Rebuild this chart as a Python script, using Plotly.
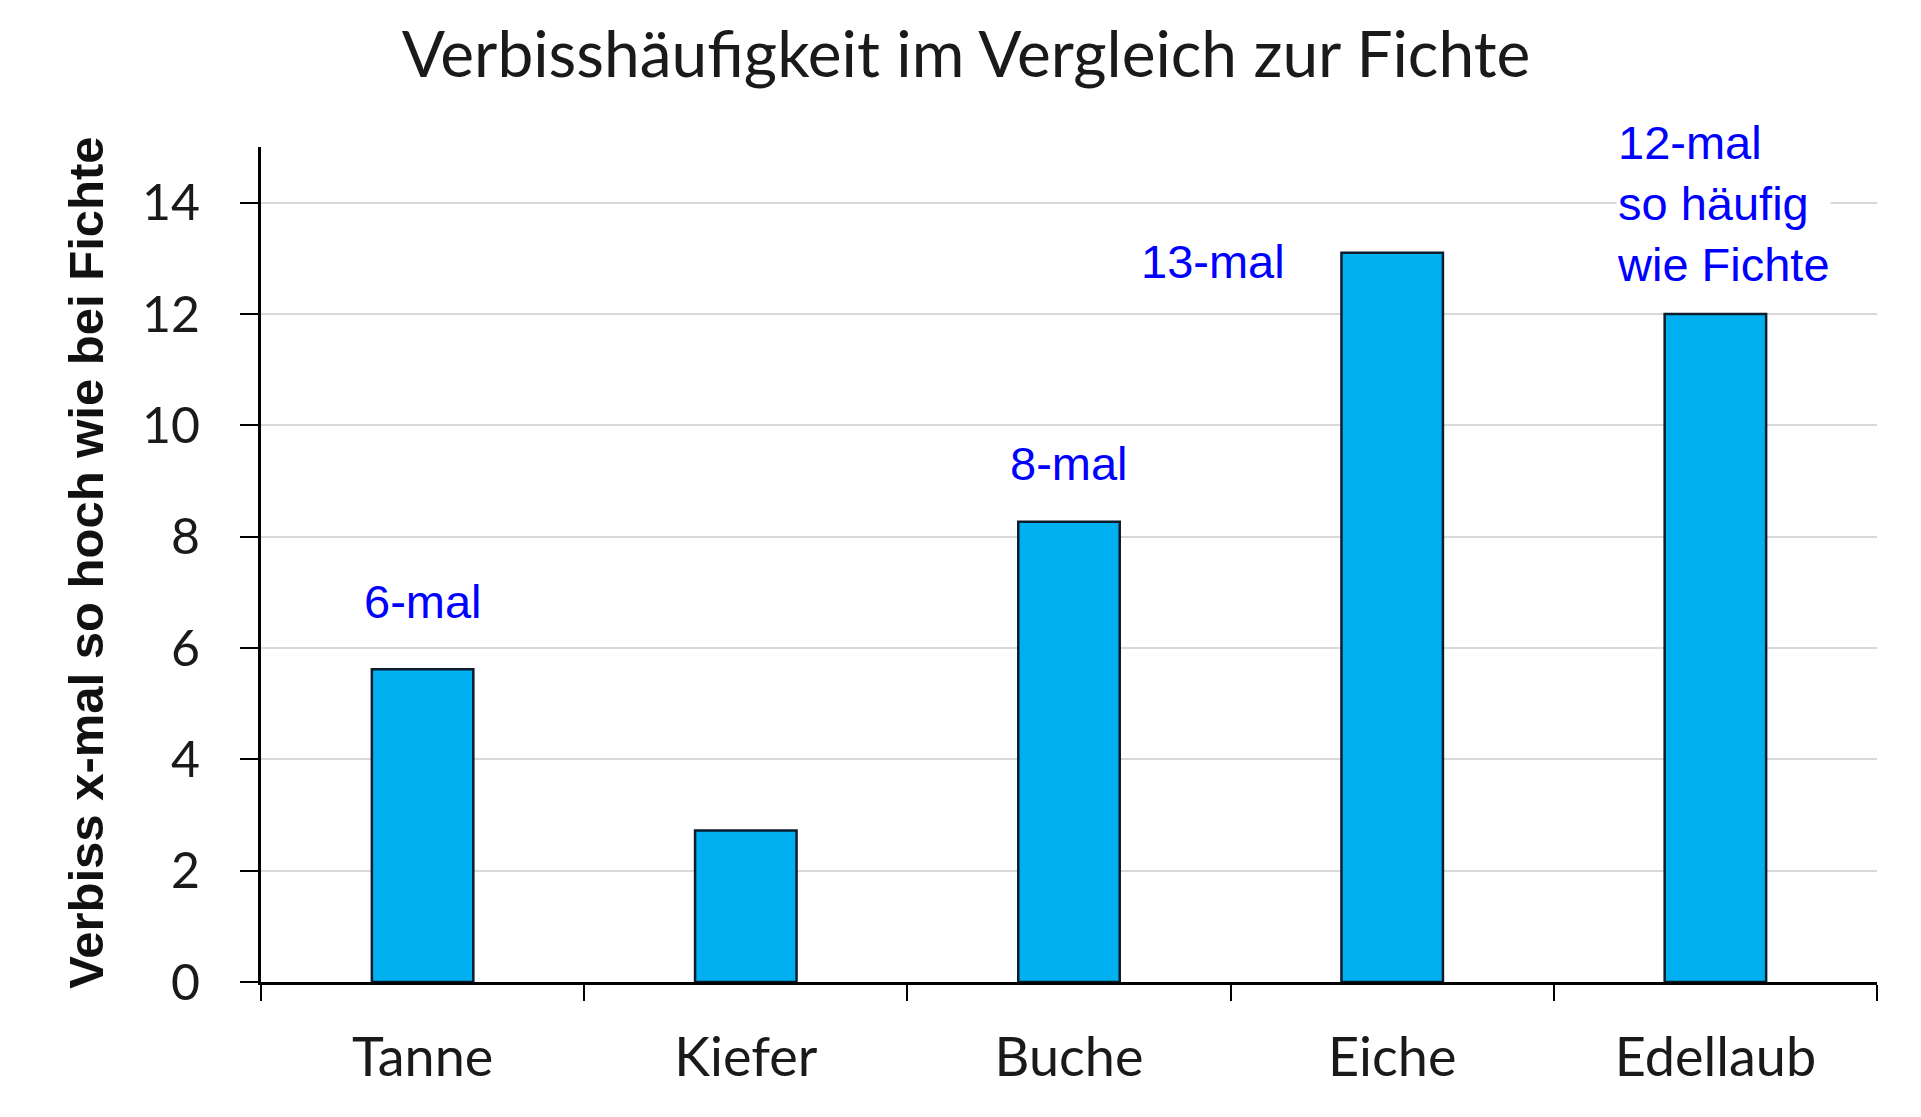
import plotly.graph_objects as go

categories = ["Tanne", "Kiefer", "Buche", "Eiche", "Edellaub"]
values = [5.62, 2.72, 8.27, 13.1, 12.0]
bar_labels = ["6-mal", "8-mal", "13-mal", "12-mal<br>so häufig<br>wie Fichte"]
y_ticks = [0, 2, 4, 6, 8, 10, 12, 14]

title_text = "Verbisshäufigkeit im Vergleich zur Fichte"
y_title = "Verbiss x-mal so hoch wie bei Fichte"

# page body adds an 8px offset; figure is sized to compensate
W, H = 1905, 1101

fig = go.Figure()
fig.add_trace(go.Bar(
    x=categories, y=values,
    marker=dict(color="#00B0F0", line=dict(color="#0b1c2c", width=2.5)),
    hoverinfo="skip",
))

label_font = dict(family="Liberation Sans, Arial, sans-serif", size=47, color="#0000FF")
annotations = [
    dict(x=0, y=6.83, xref="x", yref="y", text=bar_labels[0], showarrow=False,
         xanchor="center", yanchor="middle", font=label_font),
    dict(x=2, y=9.32, xref="x", yref="y", text=bar_labels[1], showarrow=False,
         xanchor="center", yanchor="middle", font=label_font),
    dict(x=2.674, y=12.94, xref="x", yref="y", text=bar_labels[2], showarrow=False,
         xanchor="right", yanchor="middle", font=label_font),
    dict(x=3.693, y=13.98, xref="x", yref="y", text=bar_labels[3], showarrow=False,
         xanchor="left", yanchor="middle", align="left", font=label_font,
         bgcolor="white", borderpad=0),
    dict(x=-0.1083, y=0.502, xref="paper", yref="paper", text="<b>" + y_title + "</b>",
         showarrow=False, textangle=-90, xanchor="center", yanchor="middle",
         font=dict(family="Liberation Sans, Arial, sans-serif", size=49, color="#111111")),
]

fig.update_layout(
    width=W, height=H,
    paper_bgcolor="white", plot_bgcolor="white",
    margin=dict(l=253, r=36, t=139, b=126.5, autoexpand=False),
    showlegend=False,
    bargap=0.686,
    title=dict(text=title_text, x=958 / W, xref="container", xanchor="center",
               y=1 - 47 / H, yref="container", yanchor="middle",
               font=dict(family="Lato, sans-serif", size=64, color="#1a1a1a")),
    annotations=annotations,
    xaxis=dict(
        type="category", range=[-0.5, 4.5],
        showline=True, linecolor="black", linewidth=3,
        ticks="outside", tickson="boundaries", ticklen=16, tickwidth=2, tickcolor="black",
        showgrid=False, zeroline=False,
        tickfont=dict(family="Lato, sans-serif", size=54, color="#1a1a1a"),
        ticklabelstandoff=26,
    ),
    yaxis=dict(
        range=[0, 15], tickvals=y_ticks,
        showline=True, linecolor="black", linewidth=3,
        ticks="outside", ticklen=18, tickwidth=2, tickcolor="black",
        showgrid=True, gridcolor="#d9d9d9", gridwidth=2, zeroline=False,
        tickfont=dict(family="Lato, sans-serif", size=50, color="#1a1a1a"),
        ticklabelstandoff=30,
    ),
)

fig.write_html("out.html")
